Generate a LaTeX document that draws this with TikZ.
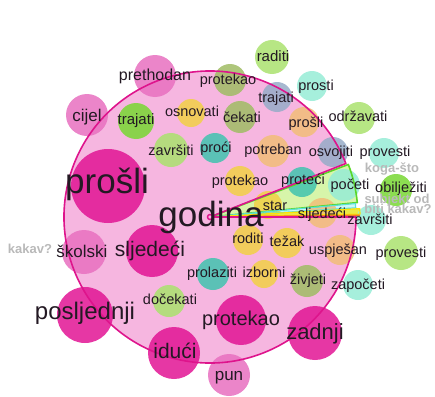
\documentclass[tikz,border=0pt]{standalone}
\usepackage{fontspec}
\setmainfont{Liberation Sans}
\definecolor{pinkfill}{RGB}{246,182,224}
\definecolor{magline}{RGB}{222,20,140}
\definecolor{cMag}{RGB}{226,20,148}
\definecolor{cPink}{RGB}{232,112,192}
\definecolor{cGreen}{RGB}{120,215,50}
\definecolor{cLGreen}{RGB}{170,226,110}
\definecolor{cOlive}{RGB}{160,188,100}
\definecolor{cTeal}{RGB}{65,195,175}
\definecolor{cAqua}{RGB}{150,236,214}
\definecolor{cGrayBlue}{RGB}{150,172,200}
\definecolor{cYellow}{RGB}{242,208,70}
\definecolor{cOrange}{RGB}{242,190,120}
\definecolor{gfill}{RGB}{215,245,170}
\definecolor{gline}{RGB}{90,215,40}
\definecolor{cyfill}{RGB}{205,248,248}
\definecolor{cyline}{RGB}{90,225,215}
\definecolor{yfill}{RGB}{235,232,70}
\definecolor{oline}{RGB}{240,120,40}
\definecolor{txt}{RGB}{35,25,35}
\definecolor{lblgrey}{RGB}{185,185,185}
\begin{document}
\begin{tikzpicture}[x=1pt,y=1pt,
  w/.style={anchor=base, inner sep=0pt, text=txt, font=\fontsize{14.5}{16}\selectfont},
  fs/.style={font=\fontsize{#1}{#1}\selectfont},
  lbl/.style={anchor=base, inner sep=0pt, text=lblgrey, font=\bfseries\fontsize{13}{13}\selectfont},
  bub/.style={fill=#1, fill opacity=0.85},
  secline/.style={line width=1.6pt, line join=round}]
\useasboundingbox (0,0) rectangle (435,-396);
\coordinate (c) at (210,-217);
% sector fills
\fill[pinkfill] (c) -- ++(21.5:146) arc[start angle=21.5, end angle=360, radius=146] -- cycle;
\fill[gfill] (c) -- ++(5.6:148) arc[start angle=5.6, end angle=20.8, radius=148] -- cycle;
\fill[cyfill] (c) -- ++(3.6:146) arc[start angle=3.6, end angle=5.3, radius=146] -- cycle;
\fill[yfill] (c) -- ++(1.1:150) arc[start angle=1.1, end angle=3.2, radius=150] -- cycle;
% bubbles
\fill[bub=cMag] (108,-186) circle[radius=37];
\fill[bub=cPink] (155,-76) circle[radius=21];
\fill[bub=cPink] (87,-115) circle[radius=21];
\fill[bub=cGreen] (136,-121) circle[radius=18];
\fill[bub=cYellow] (191,-113) circle[radius=14];
\fill[bub=cLGreen] (171,-150) circle[radius=17];
\fill[bub=cTeal] (215,-148) circle[radius=15];
\fill[bub=cOlive] (230,-80) circle[radius=16];
\fill[bub=cLGreen] (272,-57) circle[radius=17];
\fill[bub=cGrayBlue] (277,-97) circle[radius=15];
\fill[bub=cAqua] (312,-86) circle[radius=15];
\fill[bub=cOlive] (240,-117) circle[radius=16];
\fill[bub=cOrange] (304,-122) circle[radius=15];
\fill[bub=cLGreen] (359,-118) circle[radius=16];
\fill[bub=cOrange] (273,-151) circle[radius=16];
\fill[bub=cGrayBlue] (333,-152) circle[radius=15];
\fill[bub=cAqua] (384,-153) circle[radius=15];
\fill[bub=cYellow] (240,-181) circle[radius=15];
\fill[bub=cTeal] (302,-182) circle[radius=15];
\fill[bub=cAqua] (344,-185) circle[radius=16];
\fill[bub=cGreen] (396,-190) circle[radius=16];
\fill[bub=cAqua] (371,-220) circle[radius=15];
\fill[bub=cYellow] (268,-205) circle[radius=14];
\fill[bub=cOrange] (322,-213) circle[radius=15];
\fill[bub=cYellow] (248,-240) circle[radius=15];
\fill[bub=cYellow] (287,-243) circle[radius=15];
\fill[bub=cOrange] (340,-250) circle[radius=15];
\fill[bub=cLGreen] (401,-253) circle[radius=17];
\fill[bub=cTeal] (213,-274) circle[radius=16];
\fill[bub=cYellow] (264,-274) circle[radius=14];
\fill[bub=cOlive] (307,-281) circle[radius=16];
\fill[bub=cAqua] (358,-285) circle[radius=15];
\fill[bub=cPink] (84,-252) circle[radius=22];
\fill[bub=cMag] (152,-251) circle[radius=26];
\fill[bub=cMag] (85,-315) circle[radius=28];
\fill[bub=cLGreen] (169,-301) circle[radius=16];
\fill[bub=cMag] (174,-353) circle[radius=26];
\fill[bub=cMag] (241,-320) circle[radius=25];
\fill[bub=cMag] (315,-333) circle[radius=27];
\fill[bub=cPink] (229,-375) circle[radius=21];
% sector outlines
\draw[secline, gline] (c) -- ++(5.6:148) arc[start angle=5.6, end angle=20.8, radius=148] -- cycle;
\draw[secline, cyline, line width=1.2pt] (c) -- ++(3.6:146) arc[start angle=3.6, end angle=5.3, radius=146] -- cycle;
\draw[secline, yellow!85!orange, line width=1.2pt] (c) -- ++(1.1:150) arc[start angle=1.1, end angle=3.2, radius=150] -- cycle;
\draw[secline, oline, line width=1.2pt] (c) -- ++(0.7:150);
\draw[secline, magline] (c) -- ++(21.5:146) arc[start angle=21.5, end angle=360, radius=146] -- cycle;
\filldraw[fill=pinkfill, draw=magline, line width=1.5pt] (c) circle[radius=2.5];
% texts
\node[w, fs=35] (godina) at (211,-226) {godina};
\node[w, fs=35] (t1) at (107,-193) {prošli};
\node[w, fs=16] (t2) at (155,-80) {prethodan};
\node[w, fs=17] (t3) at (87,-121) {cijel};
\node[w, fs=15] (t4) at (136,-124) {trajati};
\node[w] (t5) at (192,-116) {osnovati};
\node[w] (t6) at (171,-155) {završiti};
\node[w] (t7) at (216,-152) {proći};
\node[w] (t8) at (228,-84) {protekao};
\node[w, fs=15] (t9) at (273,-61) {raditi};
\node[w] (t10) at (276,-102) {trajati};
\node[w] (t11) at (316,-90) {prosti};
\node[w] (t12) at (242,-122) {čekati};
\node[w] (t13) at (306,-127) {prošli};
\node[w] (t14) at (358,-121) {održavati};
\node[w] (t15) at (273,-154) {potreban};
\node[w] (t16) at (331,-156) {osvojiti};
\node[w] (t17) at (385,-156) {provesti};
\node[lbl] (g1) at (392,-172) {koga-što};
\node[w] (t18) at (240,-185) {protekao};
\node[w] (t19) at (303,-184) {proteći};
\node[w] (t20) at (350,-189) {početi};
\node[w] (t21) at (401,-192) {obilježiti};
\node[lbl] (g2) at (397,-203) {subjekt od};
\node[lbl] (g3) at (398,-213) {biti kakav?};
\node[w] (t22) at (370,-224) {završiti};
\node[w] (t23) at (275,-210) {star};
\node[w] (t24) at (322,-218) {sljedeći};
\node[w] (t25) at (248,-243) {roditi};
\node[w] (t26) at (287,-246) {težak};
\node[w] (t27) at (338,-254) {uspješan};
\node[w] (t28) at (401,-257) {provesti};
\node[w] (t29) at (212,-277) {prolaziti};
\node[w] (t30) at (264,-277) {izborni};
\node[w] (t31) at (308,-284) {živjeti};
\node[w] (t32) at (358,-289) {započeti};
\node[w, fs=17] (t33) at (82,-257) {školski};
\node[lbl] (g4) at (30,-253) {kakav?};
\node[w, fs=21] (t34) at (150,-256) {sljedeći};
\node[w, fs=24] (t35) at (85,-319) {posljednji};
\node[w] (t36) at (170,-304) {dočekati};
\node[w, fs=21] (t37) at (175,-358) {idući};
\node[w, fs=20] (t38) at (241,-325) {protekao};
\node[w, fs=22] (t39) at (315,-339) {zadnji};
\node[w, fs=17] (t40) at (229,-380) {pun};
\end{tikzpicture}
\end{document}
